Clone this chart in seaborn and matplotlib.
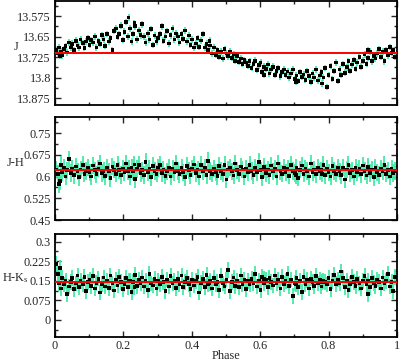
import numpy as np
import matplotlib
matplotlib.use("Agg")
import matplotlib.pyplot as plt
from matplotlib.ticker import FixedLocator, MultipleLocator, FixedFormatter
import seaborn as sns

# ---------------- data ----------------
phase = [
    0.003, 0.008, 0.012, 0.017, 0.021, 0.026, 0.031, 0.035, 0.041, 0.046,
    0.050, 0.056, 0.061, 0.066, 0.071, 0.075, 0.081, 0.086, 0.091, 0.096,
    0.101, 0.106, 0.112, 0.117, 0.121, 0.127, 0.132, 0.137, 0.142, 0.147,
    0.152, 0.158, 0.162, 0.168, 0.173, 0.178, 0.183, 0.188, 0.193, 0.198,
    0.203, 0.208, 0.213, 0.219, 0.224, 0.229, 0.234, 0.239, 0.245, 0.250,
    0.255, 0.260, 0.265, 0.271, 0.276, 0.281, 0.286, 0.291, 0.297, 0.302,
    0.307, 0.312, 0.317, 0.323, 0.328, 0.333, 0.338, 0.344, 0.349, 0.354,
    0.359, 0.364, 0.370, 0.375, 0.380, 0.385, 0.391, 0.396, 0.401, 0.406,
    0.412, 0.417, 0.422, 0.427, 0.433, 0.438, 0.443, 0.448, 0.454, 0.459,
    0.464, 0.470, 0.475, 0.480, 0.485, 0.491, 0.496, 0.501, 0.506, 0.512,
    0.517, 0.522, 0.527, 0.533, 0.538, 0.543, 0.548, 0.554, 0.559, 0.564,
    0.569, 0.575, 0.580, 0.585, 0.590, 0.596, 0.601, 0.606, 0.611, 0.617,
    0.622, 0.627, 0.632, 0.638, 0.643, 0.648, 0.653, 0.659, 0.664, 0.669,
    0.674, 0.680, 0.685, 0.690, 0.695, 0.701, 0.706, 0.711, 0.716, 0.722,
    0.727, 0.732, 0.737, 0.743, 0.748, 0.753, 0.758, 0.764, 0.769, 0.774,
    0.779, 0.785, 0.790, 0.795, 0.800, 0.806, 0.811, 0.816, 0.821, 0.827,
    0.832, 0.837, 0.842, 0.848, 0.853, 0.858, 0.863, 0.869, 0.874, 0.879,
    0.884, 0.890, 0.895, 0.900, 0.905, 0.911, 0.916, 0.921, 0.926, 0.932,
    0.937, 0.942, 0.947, 0.953, 0.958, 0.963, 0.968, 0.974, 0.979, 0.984,
    0.989, 0.995, 0.014, 0.215, 0.232, 0.452, 0.612, 0.705, 0.781, 0.915,
]

j_mag = [
    13.700, 13.712, 13.690, 13.705, 13.718, 13.695, 13.684, 13.708, 13.672, 13.690,
    13.676, 13.700, 13.665, 13.682, 13.690, 13.660, 13.674, 13.692, 13.668, 13.655,
    13.680, 13.662, 13.672, 13.650, 13.690, 13.666, 13.676, 13.645, 13.660, 13.684,
    13.640, 13.668, 13.655, 13.700, 13.630, 13.620, 13.652, 13.640, 13.610, 13.662,
    13.632, 13.596, 13.650, 13.620, 13.668, 13.640, 13.612, 13.660, 13.628, 13.645,
    13.605, 13.650, 13.672, 13.638, 13.660, 13.622, 13.680, 13.646, 13.668, 13.655,
    13.640, 13.612, 13.665, 13.650, 13.630, 13.675, 13.645, 13.620, 13.660, 13.638,
    13.650, 13.672, 13.640, 13.658, 13.628, 13.668, 13.646, 13.680, 13.660, 13.690,
    13.675, 13.655, 13.688, 13.664, 13.640, 13.690, 13.676, 13.700, 13.682, 13.712,
    13.690, 13.716, 13.700, 13.724, 13.705, 13.730, 13.695, 13.712, 13.722, 13.705,
    13.728, 13.715, 13.738, 13.720, 13.742, 13.730, 13.750, 13.735, 13.745, 13.758,
    13.740, 13.765, 13.750, 13.738, 13.772, 13.755, 13.745, 13.780, 13.760, 13.768,
    13.752, 13.785, 13.770, 13.760, 13.790, 13.775, 13.764, 13.795, 13.780, 13.770,
    13.790, 13.778, 13.800, 13.785, 13.770, 13.805, 13.792, 13.812, 13.780, 13.798,
    13.788, 13.808, 13.775, 13.795, 13.815, 13.785, 13.800, 13.770, 13.810, 13.792,
    13.780, 13.800, 13.765, 13.835, 13.790, 13.758, 13.805, 13.775, 13.745, 13.812,
    13.770, 13.790, 13.750, 13.782, 13.762, 13.740, 13.775, 13.752, 13.735, 13.768,
    13.745, 13.725, 13.760, 13.738, 13.715, 13.750, 13.728, 13.705, 13.740, 13.720,
    13.730, 13.712, 13.695, 13.725, 13.705, 13.740, 13.700, 13.718, 13.688, 13.710,
    13.700, 13.725, 13.720, 13.580, 13.600, 13.665, 13.790, 13.815, 13.822, 13.700,
]

j_h = [
    0.625, 0.610, 0.575, 0.640, 0.615, 0.630, 0.600, 0.622, 0.660, 0.612,
    0.628, 0.605, 0.635, 0.618, 0.598, 0.625, 0.640, 0.610, 0.620, 0.632,
    0.615, 0.600, 0.638, 0.622, 0.608, 0.628, 0.645, 0.612, 0.620, 0.602,
    0.630, 0.618, 0.595, 0.635, 0.624, 0.610, 0.640, 0.622, 0.605, 0.628,
    0.615, 0.645, 0.620, 0.600, 0.632, 0.618, 0.592, 0.626, 0.640, 0.612,
    0.622, 0.605, 0.650, 0.615, 0.628, 0.598, 0.636, 0.620, 0.610, 0.630,
    0.640, 0.612, 0.625, 0.603, 0.618, 0.632, 0.600, 0.626, 0.615, 0.645,
    0.620, 0.608, 0.630, 0.614, 0.598, 0.636, 0.622, 0.605, 0.628, 0.642,
    0.612, 0.625, 0.600, 0.640, 0.618, 0.630, 0.606, 0.655, 0.620, 0.610,
    0.628, 0.615, 0.602, 0.636, 0.620, 0.610, 0.640, 0.590, 0.625, 0.632,
    0.618, 0.604, 0.645, 0.622, 0.610, 0.635, 0.625, 0.600, 0.628, 0.615,
    0.640, 0.620, 0.606, 0.630, 0.615, 0.650, 0.622, 0.598, 0.634, 0.612,
    0.625, 0.605, 0.638, 0.618, 0.628, 0.600, 0.645, 0.620, 0.610, 0.632,
    0.615, 0.626, 0.603, 0.640, 0.620, 0.612, 0.630, 0.596, 0.624, 0.638,
    0.610, 0.628, 0.620, 0.600, 0.645, 0.615, 0.625, 0.608, 0.632, 0.618,
    0.622, 0.640, 0.605, 0.628, 0.614, 0.600, 0.636, 0.620, 0.610, 0.630,
    0.618, 0.605, 0.632, 0.590, 0.625, 0.640, 0.612, 0.622, 0.600, 0.630,
    0.615, 0.628, 0.608, 0.638, 0.620, 0.604, 0.630, 0.612, 0.625, 0.598,
    0.632, 0.615, 0.605, 0.628, 0.618, 0.640, 0.610, 0.622, 0.600, 0.626,
    0.612, 0.620, 0.585, 0.628, 0.642, 0.618, 0.625, 0.605, 0.610, 0.635,
]

h_ks = [
    0.215, 0.175, 0.140, 0.120, 0.160, 0.135, 0.150, 0.098, 0.128, 0.145,
    0.160, 0.118, 0.140, 0.170, 0.125, 0.150, 0.135, 0.165, 0.110, 0.145,
    0.155, 0.130, 0.168, 0.120, 0.142, 0.158, 0.105, 0.138, 0.162, 0.128,
    0.150, 0.122, 0.170, 0.140, 0.112, 0.155, 0.132, 0.165, 0.145, 0.118,
    0.138, 0.160, 0.125, 0.150, 0.108, 0.145, 0.172, 0.130, 0.155, 0.140,
    0.162, 0.128, 0.148, 0.115, 0.175, 0.140, 0.132, 0.158, 0.120, 0.150,
    0.135, 0.165, 0.145, 0.110, 0.155, 0.128, 0.168, 0.140, 0.150, 0.122,
    0.158, 0.135, 0.170, 0.125, 0.145, 0.160, 0.138, 0.118, 0.152, 0.132,
    0.148, 0.165, 0.105, 0.142, 0.158, 0.125, 0.172, 0.138, 0.150, 0.120,
    0.160, 0.135, 0.145, 0.115, 0.168, 0.140, 0.128, 0.155, 0.192, 0.110,
    0.145, 0.162, 0.130, 0.150, 0.125, 0.170, 0.138, 0.155, 0.118, 0.148,
    0.135, 0.158, 0.142, 0.175, 0.128, 0.150, 0.115, 0.165, 0.140, 0.155,
    0.125, 0.160, 0.145, 0.132, 0.170, 0.140, 0.152, 0.120, 0.165, 0.138,
    0.148, 0.175, 0.130, 0.155, 0.092, 0.142, 0.160, 0.125, 0.150, 0.108,
    0.165, 0.138, 0.152, 0.120, 0.158, 0.145, 0.130, 0.168, 0.140, 0.155,
    0.128, 0.150, 0.145, 0.135, 0.160, 0.118, 0.148, 0.172, 0.138, 0.155,
    0.142, 0.185, 0.160, 0.125, 0.150, 0.115, 0.138, 0.165, 0.145, 0.130,
    0.158, 0.140, 0.120, 0.150, 0.168, 0.135, 0.148, 0.125, 0.160, 0.142,
    0.130, 0.155, 0.145, 0.120, 0.162, 0.140, 0.150, 0.175, 0.128, 0.145,
    0.110, 0.165, 0.200, 0.150, 0.125, 0.140, 0.158, 0.135, 0.145, 0.100,
]

# uncertainties and mean levels
j_err = 0.012
jh_err = 0.030
hk_err = 0.030
j_mean = 13.71
jh_mean = 0.623
hk_mean = 0.146

# tick labels
j_ticks = [13.575, 13.65, 13.725, 13.8, 13.875]
j_ticklabels = ["13.575", "13.65", "13.725", "13.8", "13.875"]
jh_ticks = [0.45, 0.525, 0.6, 0.675, 0.75]
jh_ticklabels = ["0.45", "0.525", "0.6", "0.675", "0.75"]
hk_ticks = [0, 0.075, 0.15, 0.225, 0.3]
hk_ticklabels = ["0", "0.075", "0.15", "0.225", "0.3"]
x_ticks = [0, 0.2, 0.4, 0.6, 0.8, 1]
x_ticklabels = ["0", "0.2", "0.4", "0.6", "0.8", "1"]

# ---------------- plot ----------------
sns.set_style("ticks")
plt.rcParams["font.family"] = ["Liberation Serif", "DejaVu Serif"]
plt.rcParams["mathtext.fontset"] = "stix"
FS = 8.8

fig = plt.figure(figsize=(4.0, 3.62), dpi=100)
left, width = 0.1375, 0.855
ax1 = fig.add_axes([left, 0.710, width, 0.287])
ax2 = fig.add_axes([left, 0.392, width, 0.285])
ax3 = fig.add_axes([left, 0.069, width, 0.285])

green = "#45EBA5"

panels = [
    (ax1, j_mag, j_err, j_mean, (13.90, 13.52), j_ticks, j_ticklabels, "J"),
    (ax2, j_h, jh_err, jh_mean, (0.45, 0.806), jh_ticks, jh_ticklabels, "J-H"),
    (ax3, h_ks, hk_err, hk_mean, (-0.066, 0.33), hk_ticks, hk_ticklabels, "H-K$_\\mathregular{s}$"),
]

for ax, vals, err, mean, ylim, ticks, tlabels, lab in panels:
    ax.errorbar(phase, vals, yerr=err, fmt="none", ecolor=green, elinewidth=1.3,
                capsize=0, zorder=1)
    sns.scatterplot(x=phase, y=vals, ax=ax, marker="s", s=7, color="black",
                    edgecolor="none", linewidth=0, zorder=3)
    ax.axhline(mean, color="#FF0000", lw=1.4, zorder=4)
    ax.set_xlim(0, 1)
    ax.set_ylim(*ylim)
    ax.yaxis.set_major_locator(FixedLocator(ticks))
    ax.yaxis.set_major_formatter(FixedFormatter(tlabels))
    ax.yaxis.set_minor_locator(MultipleLocator(0.0375))
    ax.xaxis.set_major_locator(FixedLocator(x_ticks))
    ax.xaxis.set_minor_locator(MultipleLocator(0.1))
    ax.tick_params(which="both", direction="in", top=True, right=True,
                   labelsize=FS, width=1.0, pad=3)
    ax.tick_params(which="major", length=4.5)
    ax.tick_params(which="minor", length=2.5)
    for sp in ax.spines.values():
        sp.set_linewidth(1.3)
        sp.set_color("black")
    ax.set_ylabel(lab, rotation=0, fontsize=FS, labelpad=0)
    ax.yaxis.set_label_coords(-0.115, 0.5)
    if ax is not ax3:
        ax.set_xticklabels([])
    else:
        ax.set_xticklabels(x_ticklabels)

ax3.tick_params(axis="x", which="major", pad=2)
ax3.set_xlabel("Phase", fontsize=FS, labelpad=-1)

fig.savefig("out.png", dpi=100)
